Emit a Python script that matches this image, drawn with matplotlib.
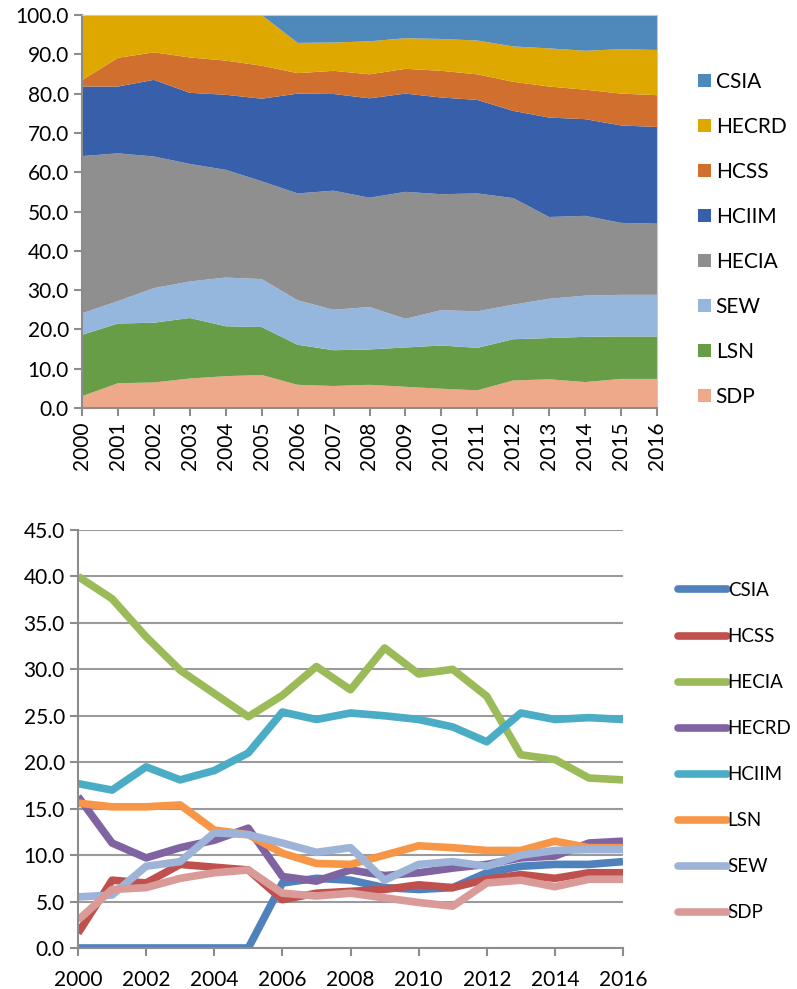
import matplotlib.pyplot as plt
from matplotlib.patches import Patch
from matplotlib.lines import Line2D

plt.rcParams['font.family'] = ['Lato', 'DejaVu Sans']

years = list(range(2000, 2017))

CSIA  = [0, 0, 0, 0, 0, 0, 7.0, 7.5, 7.3, 6.5, 6.3, 6.5, 8.1, 8.8, 9.0, 9.0, 9.3]
HCSS  = [1.6, 7.3, 7.0, 9.0, 8.7, 8.4, 5.2, 5.9, 6.1, 6.3, 6.8, 6.5, 7.4, 7.9, 7.5, 8.1, 8.1]
HECIA = [40.0, 37.6, 33.5, 29.9, 27.4, 24.9, 27.2, 30.3, 27.8, 32.3, 29.5, 30.0, 27.1, 20.8, 20.3, 18.3, 18.1]
HECRD = [16.3, 11.3, 9.7, 10.8, 11.6, 12.9, 7.7, 7.2, 8.4, 7.8, 8.1, 8.6, 9.0, 9.7, 9.9, 11.3, 11.5]
HCIIM = [17.7, 17.0, 19.5, 18.1, 19.1, 21.0, 25.4, 24.6, 25.3, 25.0, 24.6, 23.8, 22.2, 25.3, 24.6, 24.8, 24.6]
LSN   = [15.6, 15.2, 15.2, 15.4, 12.7, 12.2, 10.2, 9.1, 9.0, 10.0, 11.0, 10.8, 10.5, 10.5, 11.5, 10.8, 10.8]
SEW   = [5.5, 5.7, 8.8, 9.3, 12.4, 12.2, 11.3, 10.3, 10.8, 7.3, 9.0, 9.3, 8.8, 10.0, 10.5, 10.6, 10.6]
SDP   = [3.0, 6.3, 6.5, 7.5, 8.1, 8.4, 5.9, 5.6, 5.9, 5.4, 4.9, 4.5, 7.0, 7.3, 6.6, 7.4, 7.4]

# stacked chart (bottom to top)
stack_names = ['SDP', 'LSN', 'SEW', 'HECIA', 'HCIIM', 'HCSS', 'HECRD', 'CSIA']
stack_vals = [SDP, LSN, SEW, HECIA, HCIIM, HCSS, HECRD, CSIA]
stack_colors = ['#EEA88A', '#689D47', '#95B7DE', '#8F8F8F', '#3860AA', '#D06F2E', '#DFA800', '#4F89BC']

# line chart
line_names = ['CSIA', 'HCSS', 'HECIA', 'HECRD', 'HCIIM', 'LSN', 'SEW', 'SDP']
line_vals = [CSIA, HCSS, HECIA, HECRD, HCIIM, LSN, SEW, SDP]
line_colors = ['#4F81BD', '#C0504D', '#9BBB59', '#8064A2', '#4BACC6', '#F79646', '#9DB4D8', '#DA9A98']

FS = 15
axis_col = '#8C8C8C'

fig = plt.figure(figsize=(7.97, 9.89), dpi=100)

# ---- top: stacked area ----
ax1 = fig.add_axes([82/797, 1-408/989, 575/797, 393/989])
ax1.stackplot(years, *stack_vals, colors=stack_colors, linewidth=0)
ax1.set_xlim(2000, 2016)
ax1.set_ylim(0, 100)
ax1.set_yticks(range(0, 101, 10))
ax1.set_yticklabels([f'{v:.1f}' for v in range(0, 101, 10)])
ax1.set_xticks(years)
ax1.set_xticklabels([str(y) for y in years], rotation=90)
ax1.tick_params(labelsize=FS, color=axis_col, width=1.5, length=6, direction='out')
for s in ['left', 'bottom']:
    ax1.spines[s].set_color(axis_col)
    ax1.spines[s].set_linewidth(1.5)
for s in ['top', 'right']:
    ax1.spines[s].set_color('#C8C8C8')
    ax1.spines[s].set_linewidth(0.8)

h1 = [Patch(facecolor=c) for c in stack_colors[::-1]]
fig.legend(h1, stack_names[::-1], loc='upper left',
           bbox_to_anchor=(698/797, 1-72/989), frameon=False, fontsize=FS,
           handlelength=0.6, handleheight=0.6, handletextpad=0.25,
           labelspacing=1.2, borderpad=0, borderaxespad=0)

# ---- bottom: lines ----
ax2 = fig.add_axes([78/797, 1-948/989, 545/797, 418/989])
for vals, name, c in zip(line_vals, line_names, line_colors):
    ax2.plot(years, vals, color=c, lw=5.5, solid_joinstyle='round',
             solid_capstyle='butt', label=name)
ax2.set_xlim(2000, 2016)
ax2.set_ylim(0, 45)
ax2.set_yticks([v * 5 for v in range(10)])
ax2.set_yticklabels([f'{v * 5:.1f}' for v in range(10)])
ax2.set_xticks(range(2000, 2017, 2))
ax2.yaxis.grid(True, color='#9A9A9A', lw=1.5)
ax2.set_axisbelow(True)
ax2.tick_params(labelsize=FS, color=axis_col, width=1.5, length=6, direction='out')
ax2.tick_params(axis='x', pad=10)
for s in ['left', 'bottom']:
    ax2.spines[s].set_color(axis_col)
    ax2.spines[s].set_linewidth(1.5)
for s in ['top', 'right']:
    ax2.spines[s].set_visible(False)

h2 = [Line2D([0], [0], color=c, lw=5.5, solid_capstyle='round') for c in line_colors]
fig.legend(h2, line_names, loc='upper left',
           bbox_to_anchor=(678/797, 1-582/989), frameon=False, fontsize=13.5,
           handlelength=2.6, handletextpad=0.05,
           labelspacing=1.55, borderpad=0, borderaxespad=0)

fig.savefig('out.png', dpi=100)
